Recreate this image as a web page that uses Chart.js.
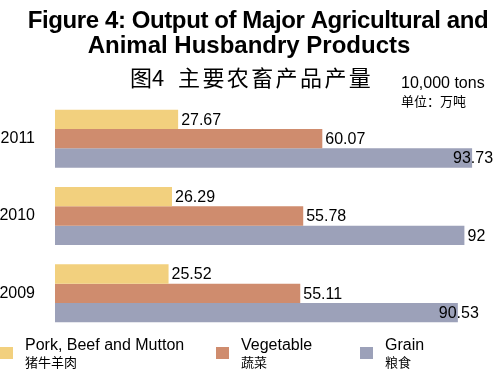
<!DOCTYPE html>
<html>
<head>
<meta charset="utf-8">
<script src="https://cdn.jsdelivr.net/npm/chart.js@4"></script>
<style>
  html, body { margin: 0; padding: 0; background: #fff; }
</style>
</head>
<body>
<canvas id="outputChart" width="500" height="377"></canvas>
<script>
const years = ['2011', '2010', '2009'];
const porkBeefMutton = [27.67, 26.29, 25.52];
const vegetable = [60.07, 55.78, 55.11];
const grain = [93.73, 92, 90.53];
const seriesNames = ['Pork, Beef and Mutton', 'Vegetable', 'Grain'];
const seriesNamesCn = ['猪牛羊肉', '蔬菜', '粮食'];
const colors = ['#f2d07e', '#cf8c6e', '#9ca1b9'];

const FONT = '"Liberation Sans", Arial, Helvetica, sans-serif';
const CJK = '"Noto Sans CJK SC", sans-serif';

// header, units, value labels and bilingual legend
const decorations = {
    id: 'decorations',
    afterDatasetsDraw(chart) {
        const ctx = chart.ctx;
        ctx.save();
        ctx.fillStyle = '#000';
        ctx.textBaseline = 'alphabetic';

        ctx.textAlign = 'center';
        ctx.font = 'bold 24px ' + FONT;
        ctx.letterSpacing = '-0.4px';
        ctx.fillText('Figure 4: Output of Major Agricultural and', 258, 28);
        ctx.letterSpacing = '0px';
        ctx.fillText('Animal Husbandry Products', 249, 53);

        // Chinese title, slightly tracked
        ctx.textAlign = 'left';
        ctx.font = '22px ' + CJK;
        ctx.fillText('图4', 130, 86);
        Array.from('主要农畜产品产量').forEach((ch, i) => {
            ctx.fillText(ch, 178 + i * 24.4, 86);
        });

        ctx.font = '16px ' + FONT;
        ctx.fillText('10,000 tons', 401, 88);
        ctx.font = '13px ' + CJK;
        ctx.fillText('单位：万吨', 401, 106);

        // value labels
        ctx.font = '16px ' + FONT;
        ctx.textBaseline = 'middle';
        chart.data.datasets.forEach((ds, di) => {
            chart.getDatasetMeta(di).data.forEach((bar, i) => {
                const txt = String(ds.data[i]);
                if (di === 2) {
                    ctx.textAlign = 'right';
                    ctx.fillText(txt, bar.x + 21, bar.y + 1);
                } else {
                    ctx.textAlign = 'left';
                    ctx.fillText(txt, bar.x + 3, bar.y + 1);
                }
            });
        });

        // legend
        const legendX = [0, 216, 360];
        ctx.textAlign = 'left';
        seriesNames.forEach((name, i) => {
            ctx.fillStyle = colors[i];
            ctx.fillRect(legendX[i], 347, 13, 12);
            ctx.fillStyle = '#000';
            ctx.textBaseline = 'alphabetic';
            ctx.font = '16px ' + FONT;
            ctx.fillText(name, legendX[i] + 25, 350);
            ctx.font = '13px ' + CJK;
            ctx.fillText(seriesNamesCn[i], legendX[i] + 25, 367);
        });
        ctx.restore();
    }
};

new Chart(document.getElementById('outputChart'), {
    type: 'bar',
    data: {
        labels: years,
        datasets: [
            { label: seriesNames[0], data: porkBeefMutton, backgroundColor: colors[0] },
            { label: seriesNames[1], data: vegetable, backgroundColor: colors[1] },
            { label: seriesNames[2], data: grain, backgroundColor: colors[2] }
        ]
    },
    options: {
        indexAxis: 'y',
        responsive: false,
        animation: false,
        devicePixelRatio: 1,
        categoryPercentage: 0.75,
        barPercentage: 1,
        layout: { padding: { top: 100, bottom: 45, left: 0, right: 0 } },
        plugins: {
            legend: { display: false },
            tooltip: { enabled: false }
        },
        scales: {
            x: { display: false, min: 0, max: 100 },
            y: {
                grid: { display: false, drawTicks: false },
                border: { display: false },
                ticks: { color: '#000', font: { family: FONT, size: 16 }, padding: 20 },
                afterFit(scale) { scale.width = 55; }
            }
        }
    },
    plugins: [decorations]
});
</script>
</body>
</html>
